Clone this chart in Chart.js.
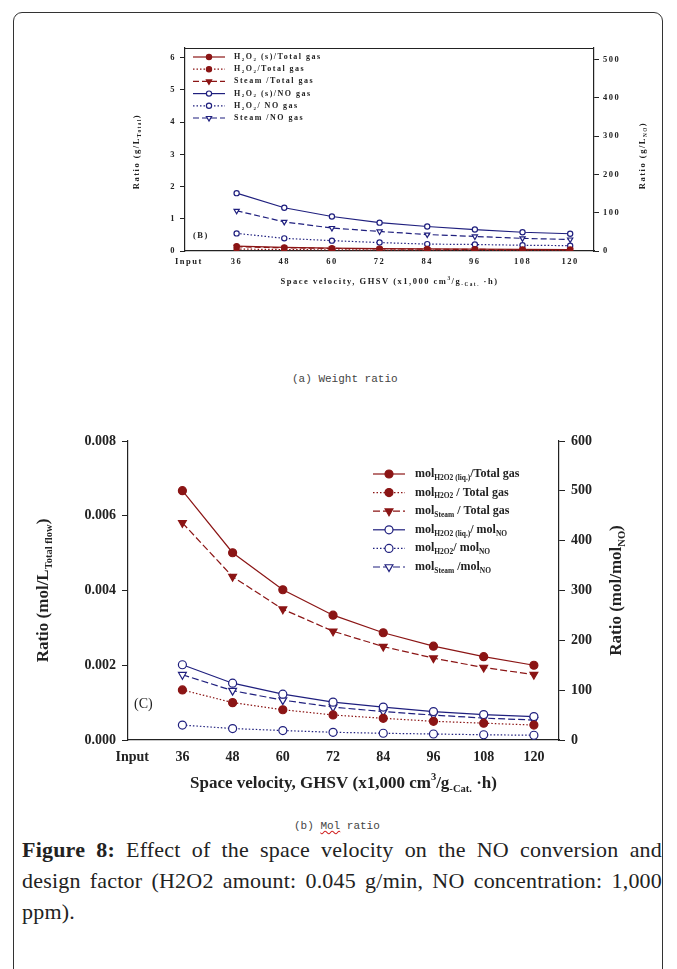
<!DOCTYPE html>
<html>
<head>
<meta charset="utf-8">
<script src="https://cdn.jsdelivr.net/npm/chart.js@4.4.0/dist/chart.umd.min.js"></script>
<style>
body{margin:0;background:#fff;width:677px;height:969px;position:relative;overflow:hidden;}
#frame{position:absolute;left:13px;top:12px;width:648px;height:1000px;border:1.5px solid #333;border-radius:9px;}
canvas{position:absolute;left:0;}
#weight{top:0;}
#mol{top:400px;}
.cap{position:absolute;font-family:"Liberation Mono",monospace;font-size:11px;color:#444;}
.mis{text-decoration:underline wavy #d02020;}
#caption{position:absolute;left:22px;top:834px;width:640px;font-family:"Liberation Serif",serif;font-size:22px;letter-spacing:0.2px;line-height:31px;color:#222;}
#caption div{text-align:justify;text-align-last:justify;white-space:nowrap;}
#caption div.last{text-align-last:left;}
</style>
</head>
<body>
<div id="frame"></div>
<canvas id="weight" width="677" height="320"></canvas>
<div class="cap" style="left:292px;top:373px;">(a) Weight ratio</div>
<canvas id="mol" width="677" height="410"></canvas>
<div class="cap" style="left:294px;top:820px;">(b) <span class="mis">Mol</span> ratio</div>
<div id="caption">
  <div><b>Figure 8:</b> Effect of the space velocity on the NO conversion and</div>
  <div>design factor (H2O2 amount: 0.045 g/min, NO concentration: 1,000</div>
  <div class="last">ppm).</div>
</div>
<script>
// x positions (GHSV, x1,000 cm3/g-cat h); 24 is the "Input" slot
const gsv = [36, 48, 60, 72, 84, 96, 108, 120];
const inputTick = 24;

// (a) weight ratio, g/L total gas (left) and g/L NO (right)
const wH2O2sTotal = [0.15, 0.11, 0.09, 0.075, 0.064, 0.056, 0.05, 0.045];
const wH2O2Total = [0.06, 0.045, 0.036, 0.03, 0.026, 0.023, 0.02, 0.018];
const wSteamTotal = [0.13, 0.1, 0.08, 0.065, 0.056, 0.049, 0.043, 0.039];
const wH2O2sNO = [151, 113, 90, 74, 64, 56, 49, 45];
const wH2O2NO = [46, 33, 27, 22, 18, 17, 15, 14];
const wSteamNO = [105, 76, 60, 51, 43, 38, 33, 30];

// (b) mol ratio, mol/L total flow (left) and mol/mol NO (right)
const mH2O2lTotal = [0.00667, 0.00501, 0.00402, 0.00334, 0.00287, 0.00251, 0.00223, 0.00200];
const mH2O2Total = [0.00134, 0.00100, 0.00081, 0.00067, 0.00058, 0.00050, 0.00045, 0.00040];
const mSteamTotal = [0.00581, 0.00437, 0.00350, 0.00291, 0.00250, 0.00219, 0.00194, 0.00175];
const mH2O2lNO = [151, 114, 92, 76, 66, 57, 51, 47];
const mH2O2NO = [30, 23, 19, 15.5, 13.5, 12, 10.5, 9.5];
const mSteamNO = [131, 99, 80, 66, 57, 50, 44, 40];

// legend labels; "_" marks a subscript piece, "^" a superscript
const weightLabels = [
  ['H', '_2', 'O', '_2', ' (s)/Total gas'],
  ['H', '_2', 'O', '_2', '/Total gas'],
  ['Steam /Total gas'],
  ['H', '_2', 'O', '_2', ' (s)/NO gas'],
  ['H', '_2', 'O', '_2', '/ NO gas'],
  ['Steam /NO gas']
];
const molLabels = [
  ['mol', '_H2O2 (liq.)', '/Total gas'],
  ['mol', '_H2O2', ' / Total gas'],
  ['mol', '_Steam', ' / Total gas'],
  ['mol', '_H2O2 (liq.)', '/ mol', '_NO'],
  ['mol', '_H2O2', '/ mol', '_NO'],
  ['mol', '_Steam', ' /mol', '_NO']
];

const RED = '#8b1515';
const BLUE = '#1f1f7e';
const INK = '#222';

const pts = vals => vals.map((v, i) => ({x: gsv[i], y: v}));

function drawRich(ctx, segs, x, y, size, o) {
  const weight = o.weight || 'bold';
  ctx.letterSpacing = o.spacing || '0px';
  let total = 0;
  const parts = segs.map(s => {
    const kind = s[0] === '_' ? 'sub' : s[0] === '^' ? 'sup' : '';
    const t = kind ? s.slice(1) : s;
    const fs = kind ? size * 0.62 : size;
    ctx.font = `${weight} ${fs}px ${o.family}`;
    const w = ctx.measureText(t).width;
    total += w;
    return {t, kind, fs, w};
  });
  let cx = o.align === 'left' ? x : x - total / 2;
  ctx.textAlign = 'left';
  ctx.textBaseline = 'middle';
  ctx.fillStyle = o.color || INK;
  parts.forEach(p => {
    ctx.font = `${weight} ${p.fs}px ${o.family}`;
    const dy = p.kind === 'sub' ? size * 0.32 : p.kind === 'sup' ? -size * 0.38 : 0;
    ctx.fillText(p.t, cx, y + dy);
    cx += p.w;
  });
}

const annotPlugin = {
  id: 'annot',
  beforeDraw(chart, args, opts) {
    chart.ctx.letterSpacing = opts.tickSpacing || '0px';
  },
  afterDraw(chart, args, opts) {
    const ctx = chart.ctx;
    const area = chart.chartArea;
    ctx.save();
    if (opts.topLine) {
      ctx.strokeStyle = INK;
      ctx.lineWidth = 1;
      ctx.beginPath();
      ctx.moveTo(area.left, area.top + 0.5);
      ctx.lineTo(area.right, area.top + 0.5);
      ctx.stroke();
    }
    const t = opts.titles;
    const txt = {family: t.family, spacing: t.spacing};
    drawRich(ctx, t.x, (area.left + area.right) / 2, t.xY, t.size, txt);
    ctx.save();
    ctx.translate(t.leftX, (area.top + area.bottom) / 2 + t.leftDy);
    ctx.rotate(-Math.PI / 2);
    drawRich(ctx, t.left, 0, 0, t.size, txt);
    ctx.restore();
    ctx.save();
    ctx.translate(t.rightX, (area.top + area.bottom) / 2 + t.rightDy);
    ctx.rotate(-Math.PI / 2);
    drawRich(ctx, t.right, 0, 0, t.size, txt);
    ctx.restore();

    drawRich(ctx, [opts.panel.text], opts.panel.x, opts.panel.y, opts.panel.size,
      {family: t.family, spacing: t.spacing, align: 'left', weight: opts.panel.weight});

    const lg = opts.legend;
    chart.data.datasets.forEach((ds, i) => {
      const y = lg.y + i * lg.dy;
      ctx.strokeStyle = ds.borderColor;
      ctx.lineWidth = ds.borderWidth;
      ctx.setLineDash(ds.borderDash || []);
      ctx.beginPath();
      ctx.moveTo(lg.x, y);
      ctx.lineTo(lg.x + lg.len, y);
      ctx.stroke();
      ctx.setLineDash([]);
      ctx.fillStyle = ds.pointBackgroundColor;
      ctx.lineWidth = ds.pointBorderWidth;
      Chart.helpers.drawPoint(ctx, {
        pointStyle: ds.pointStyle, rotation: ds.pointRotation || 0,
        radius: ds.pointRadius, borderWidth: ds.pointBorderWidth
      }, lg.x + lg.len / 2, y);
      drawRich(ctx, lg.labels[i], lg.textX, y, lg.size,
        {family: t.family, spacing: t.spacing, align: 'left'});
    });
    ctx.restore();
  }
};

function series(label, vals, axis, color, dash, style, filled, r) {
  return {
    label: label, data: pts(vals), yAxisID: axis,
    borderColor: color, borderWidth: 1.2, borderDash: dash, tension: 0,
    pointStyle: style, pointRotation: style === 'triangle' ? 180 : 0,
    pointRadius: r, pointHoverRadius: r, pointBorderWidth: 1.2,
    pointBorderColor: color, pointBackgroundColor: filled ? color : '#fff'
  };
}

function makeChart(id, cfg) {
  const tickFont = {family: cfg.family, size: cfg.tickSize, weight: 'bold'};
  const yAxis = (pos, max, step, width, fmt) => ({
    position: pos, min: 0, max: max,
    afterFit: s => { s.width = width; },
    ticks: {stepSize: step, includeBounds: false, padding: cfg.tickPad, color: INK, font: tickFont,
      callback: fmt},
    grid: {drawOnChartArea: false, tickLength: cfg.tickLen, color: INK, lineWidth: 1},
    border: {color: INK, width: 1.2}
  });
  return new Chart(document.getElementById(id), {
    type: 'line',
    data: {datasets: cfg.datasets},
    options: {
      responsive: false, animation: false, devicePixelRatio: 1,
      layout: {padding: {top: cfg.top, left: 0, right: 0, bottom: 0}},
      plugins: {legend: {display: false}, tooltip: {enabled: false}, annot: cfg.annot},
      scales: {
        x: {
          type: 'linear', min: 23, max: 126,
          afterFit: s => { s.height = cfg.xHeight; },
          ticks: {stepSize: 12, includeBounds: false, padding: cfg.xPad, color: INK, font: tickFont,
            maxRotation: 0, autoSkip: false, callback: v => v === inputTick ? 'Input' : String(v)},
          grid: {display: false, drawTicks: false},
          border: {color: INK, width: 1.2}
        },
        y: yAxis('left', cfg.leftMax, cfg.leftStep, cfg.leftW, cfg.leftFmt),
        y1: yAxis('right', cfg.rightMax, 100, cfg.rightW, v => String(v))
      }
    },
    plugins: [annotPlugin]
  });
}

const serifA = '"Liberation Serif", serif';

makeChart('weight', {
  family: serifA, tickSize: 8.5, tickPad: 4, tickLen: 5, xPad: 6,
  top: 48, xHeight: 69, leftW: 185, rightW: 83,
  leftMax: 6.3, leftStep: 1, rightMax: 530, leftFmt: v => String(v),
  datasets: [
    series('H2O2 (s)/Total gas', wH2O2sTotal, 'y', RED, [], 'circle', true, 2.6),
    series('H2O2/Total gas', wH2O2Total, 'y', RED, [1.5, 2], 'circle', true, 2.6),
    series('Steam /Total gas', wSteamTotal, 'y', RED, [6, 3], 'triangle', true, 3),
    series('H2O2 (s)/NO gas', wH2O2sNO, 'y1', BLUE, [], 'circle', false, 2.6),
    series('H2O2/ NO gas', wH2O2NO, 'y1', BLUE, [1.5, 2], 'circle', false, 2.6),
    series('Steam /NO gas', wSteamNO, 'y1', BLUE, [6, 3], 'triangle', false, 3)
  ],
  annot: {
    tickSpacing: '1.5px', topLine: true,
    titles: {
      family: serifA, size: 8.5, spacing: '1.5px',
      x: ['Space velocity, GHSV (x1,000 cm', '^3', '/g', '_-Cat.', ' \u00b7h)'], xY: 282,
      left: ['Ratio (g/L', '_Total', ')'], leftX: 137, leftDy: 2,
      right: ['Ratio (g/L', '_NO', ')'], rightX: 643, rightDy: 6
    },
    panel: {text: '(B)', x: 193, y: 236, size: 8.5},
    legend: {x: 193, y: 57, dy: 12.2, len: 32, textX: 234, size: 8, labels: weightLabels}
  }
});

makeChart('mol', {
  family: serifA, tickSize: 14, tickPad: 6, tickLen: 6, xPad: 9,
  top: 41, xHeight: 70, leftW: 128, rightW: 118,
  leftMax: 0.008, leftStep: 0.002, rightMax: 600, leftFmt: v => v.toFixed(3),
  datasets: [
    series('molH2O2 (liq.)/Total gas', mH2O2lTotal, 'y', RED, [], 'circle', true, 4),
    series('molH2O2 / Total gas', mH2O2Total, 'y', RED, [1.5, 2], 'circle', true, 4),
    series('molSteam / Total gas', mSteamTotal, 'y', RED, [7, 3], 'triangle', true, 4.5),
    series('molH2O2 (liq.)/ molNO', mH2O2lNO, 'y1', BLUE, [], 'circle', false, 4),
    series('molH2O2/ molNO', mH2O2NO, 'y1', BLUE, [1.5, 2], 'circle', false, 4),
    series('molSteam /molNO', mSteamNO, 'y1', BLUE, [7, 3], 'triangle', false, 4.5)
  ],
  annot: {
    tickSpacing: '0px', topLine: false,
    titles: {
      family: serifA, size: 17, spacing: '0px',
      x: ['Space velocity, GHSV (x1,000 cm', '^3', '/g', '_-Cat.', ' \u00b7h)'], xY: 384,
      left: ['Ratio (mol/L', '_Total flow', ')'], leftX: 44, leftDy: 0,
      right: ['Ratio (mol/mol', '_NO', ')'], rightX: 617, rightDy: 0
    },
    panel: {text: '(C)', x: 134, y: 304, size: 14, weight: 'normal'},
    legend: {x: 373, y: 74, dy: 18.6, len: 32, textX: 415, size: 12, labels: molLabels}
  }
});
</script>
</body>
</html>
